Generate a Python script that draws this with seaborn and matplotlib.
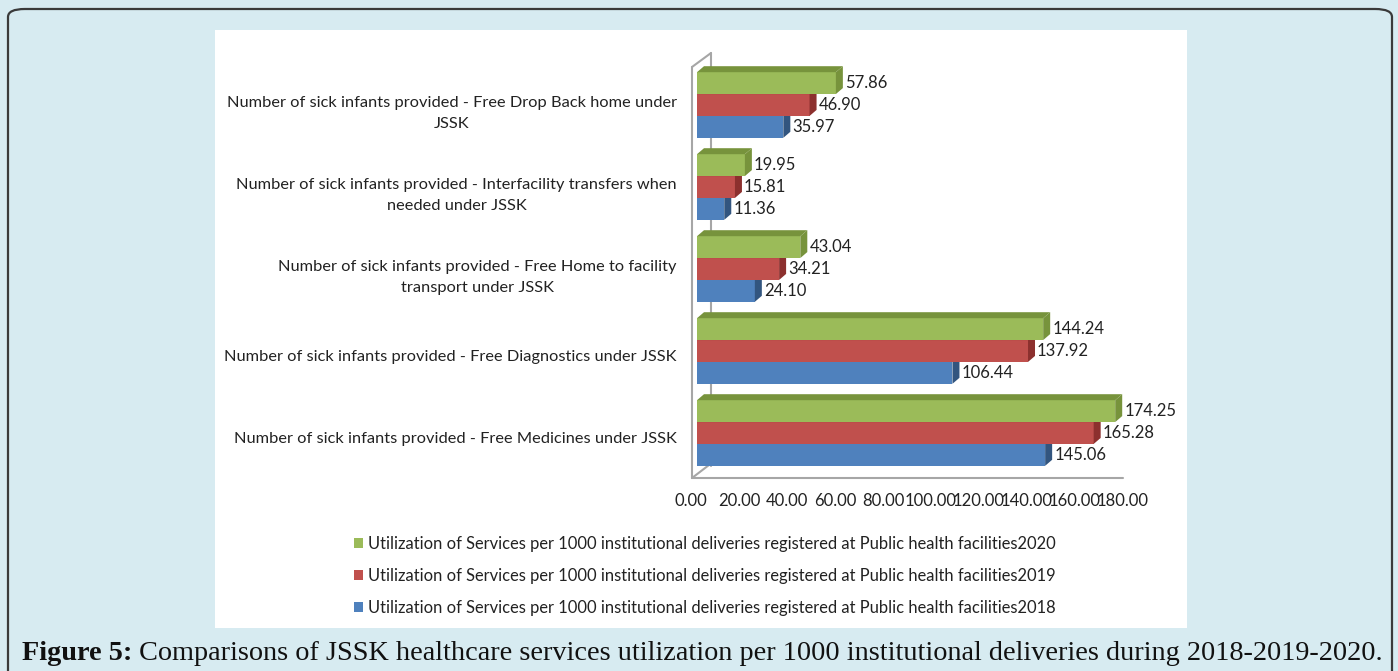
import matplotlib
matplotlib.use("Agg")
import matplotlib.pyplot as plt
from matplotlib.patches import Polygon, FancyBboxPatch, Rectangle
from matplotlib.transforms import IdentityTransform, ScaledTranslation
from matplotlib.lines import Line2D
import seaborn as sns
import pandas as pd

# ---- data -------------------------------------------------------------
services = [
    "Number of sick infants provided - Free Drop Back home under\nJSSK",
    "Number of sick infants provided - Interfacility transfers when\nneeded under JSSK",
    "Number of sick infants provided - Free Home to facility\ntransport under JSSK",
    "Number of sick infants provided - Free Diagnostics under JSSK",
    "Number of sick infants provided - Free Medicines under JSSK",
]
series_prefix = "Utilization of Services per 1000 institutional deliveries registered at Public health facilities"
years = ["2020", "2019", "2018"]
values_2020 = [57.86, 19.95, 43.04, 144.24, 174.25]
values_2019 = [46.90, 15.81, 34.21, 137.92, 165.28]
values_2018 = [35.97, 11.36, 24.10, 106.44, 145.06]
x_ticks = [0, 20, 40, 60, 80, 100, 120, 140, 160, 180]
caption_bold = "Figure 5:"
caption_rest = " Comparisons of JSSK healthcare services utilization per 1000 institutional deliveries during 2018-2019-2020."

front_colors = {"2020": "#9BBB59", "2019": "#C0504D", "2018": "#4F81BD"}
face_colors = {"2020": "#77933C", "2019": "#8C302E", "2018": "#32557F"}

rows = []
for yr, vals in zip(years, [values_2020, values_2019, values_2018]):
    for s, v in zip(services, vals):
        rows.append({"service": s, "series": series_prefix + yr, "year": yr, "value": v})
df = pd.DataFrame(rows)
hue_order = [series_prefix + y for y in years]
palette = {series_prefix + y: front_colors[y] for y in years}

sns.set_theme(style="white")
plt.rcParams["font.family"] = ["Lato", "DejaVu Sans"]

W, H = 1398, 671
fig = plt.figure(figsize=(W / 100, H / 100), dpi=100)
fig.patch.set_facecolor("#D7EBF1")


def fx(px):
    return px / W


def fy(py):
    return 1 - py / H


# rounded outer frame and white chart panel
fig.patches.append(FancyBboxPatch((fx(8), fy(720)), fx(1384), fy(9) - fy(720),
                                  boxstyle="round,pad=0,rounding_size=0.012",
                                  transform=fig.transFigure, facecolor="none",
                                  edgecolor="#3a3a3a", linewidth=1.6, zorder=-2))
fig.patches.append(Rectangle((fx(215), fy(628)), fx(972), fy(30) - fy(628),
                             transform=fig.transFigure, facecolor="white",
                             edgecolor="none", zorder=-2))

# plot area: front plane of the 3-D box
left_px, right_px, top_px, bot_px = 697, 1129, 64, 474
ax = fig.add_axes([fx(left_px), fy(bot_px), fx(right_px - left_px), fy(top_px) - fy(bot_px)])
ax.set_facecolor("none")

sns.barplot(data=df, y="service", x="value", hue="series", hue_order=hue_order,
            palette=palette, order=services, orient="h", width=0.8,
            saturation=1, edgecolor="none", linewidth=0, ax=ax, legend=True)
ax.set_xlim(0, 180)
ax.set_ylim(4.5, -0.5)
for sp in ax.spines.values():
    sp.set_visible(False)
ax.set_xlabel("")
ax.set_ylabel("")

# axis ticks
ax.set_xticks(x_ticks)
ax.set_xticklabels([f"{t:.2f}" for t in x_ticks], fontsize=12, color="#222222")
ax.tick_params(axis="x", length=0, pad=13.5)
for lab in ax.get_xticklabels():
    lab.set_transform(lab.get_transform() + ScaledTranslation(-6 / 100, 0, fig.dpi_scale_trans))
ax.tick_params(axis="y", length=0, pad=14.5)
for lab in ax.get_yticklabels():
    lab.set_fontsize(11.8)
    lab.set_color("#222222")
    lab.set_multialignment("center")
    lab.set_linespacing(1.6)
    lab.set_transform(lab.get_transform() + ScaledTranslation(0, -4 / 100, fig.dpi_scale_trans))

# 3-D box edges (pixel positions, drawn beneath the bars)
grey = "#A6A6A6"
box_lines = [
    [(692, 67), (692, 478)],
    [(692, 478), (1123, 478)],
    [(692, 478), (709, 465)],
    [(692, 67), (711, 53)],
    [(711, 53), (711, 466)],
]
for pts in box_lines:
    xs = [p[0] for p in pts]
    ys = [H - p[1] for p in pts]
    ax.add_line(Line2D(xs, ys, transform=IdentityTransform(), color=grey, lw=1.5,
                       zorder=0.5, clip_on=False))

# depth faces on every bar, values labelled beside them
fig.canvas.draw()
dx, dy = 7, 6
z_for = {"2018": 2, "2019": 4, "2020": 6}
for cont, yr in zip(ax.containers, years):
    for patch, val in zip(cont.patches, cont.datavalues):
        x0, y0 = patch.get_x(), patch.get_y()
        w, h = patch.get_width(), patch.get_height()
        (dx0, dyt), (dx1, dyb) = ax.transData.transform([(x0, y0), (x0 + w, y0 + h)])
        top, bot = max(dyt, dyb), min(dyt, dyb)
        z = z_for[yr]
        patch.set_zorder(z)
        top_face = Polygon([(dx0, top), (dx1, top), (dx1 + dx, top + dy), (dx0 + dx, top + dy)],
                           closed=True, transform=IdentityTransform(),
                           facecolor=face_colors[yr], edgecolor="none", zorder=z + 0.5,
                           clip_on=False)
        side_face = Polygon([(dx1, top), (dx1 + dx, top + dy), (dx1 + dx, bot + dy), (dx1, bot)],
                            closed=True, transform=IdentityTransform(),
                            facecolor=face_colors[yr], edgecolor="none", zorder=z + 0.5,
                            clip_on=False)
        ax.add_patch(top_face)
        ax.add_patch(side_face)
        ax.annotate(f"{val:.2f}", xy=(val, y0 + h / 2), xytext=(dx + 2, 0),
                    textcoords="offset pixels", ha="left", va="center",
                    fontsize=12, color="#222222", zorder=8)

# legend below the plot
handles, labels = ax.get_legend_handles_labels()
ax.legend_.remove()
leg = fig.legend(handles, labels, loc="upper left",
                 bbox_to_anchor=(fx(346), fy(528)), frameon=False,
                 fontsize=11.9, handlelength=0.55, handleheight=0.55,
                 handletextpad=0.3, labelspacing=0.95, borderpad=0)
for t in leg.get_texts():
    t.set_color("#222222")

# caption
serif = ["Liberation Serif", "DejaVu Serif"]
cb = fig.text(fx(22), fy(653), caption_bold, fontsize=20.3, fontweight="bold",
              family=serif, va="center", ha="left", color="#111111")
fig.canvas.draw()
bb = cb.get_window_extent()
fig.text(bb.x1 / W, fy(653), caption_rest, fontsize=20.3, family=serif,
         va="center", ha="left", color="#111111")

fig.savefig("out.png", dpi=100, facecolor=fig.get_facecolor())
